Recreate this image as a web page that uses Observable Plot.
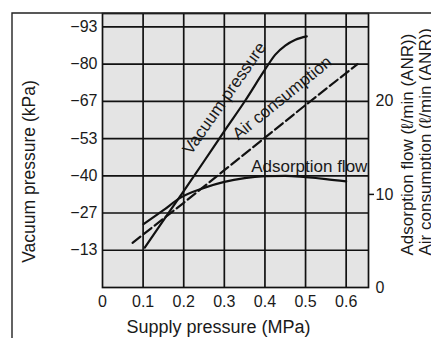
<!DOCTYPE html>
<html><head><meta charset="utf-8">
<script src="https://cdn.jsdelivr.net/npm/d3@7"></script>
<script src="https://cdn.jsdelivr.net/npm/@observablehq/plot@0.6"></script>
<style>body{margin:0;background:#fff} svg{display:block}</style>
</head><body><div id="chart"></div>
<script>
// Axis ticks
const supplyTicks = [0, 0.1, 0.2, 0.3, 0.4, 0.5, 0.6];               // MPa
const vacuumTickValues = [13.33, 26.67, 40, 53.33, 66.67, 80, 93.33];  // kPa (magnitude)
const vacuumTickLabels = ["−13", "−27", "−40", "−53", "−67", "−80", "−93"];
const flowTicks = [0, 10, 20];                                        // ℓ/min (ANR)

// Vacuum pressure (kPa magnitude) vs supply pressure (MPa)
const vacuumSupply = [0.104, 0.15, 0.20, 0.25, 0.30, 0.35, 0.40, 0.425, 0.45, 0.475, 0.503];
const vacuumKPa    = [14.3, 24.0, 34.5, 45.2, 56.0, 66.6, 78.0, 83.3, 86.6, 88.7, 89.9];

// Air consumption (ℓ/min ANR)
const airSupply = [0.074, 0.2, 0.3, 0.4, 0.5, 0.628];
const airFlow   = [4.8, 9.1, 12.6, 16.1, 19.6, 24.0];

// Adsorption flow (ℓ/min ANR)
const adsSupply = [0.101, 0.15, 0.19, 0.25, 0.30, 0.35, 0.40, 0.45, 0.50, 0.55, 0.60];
const adsFlow   = [6.8, 8.3, 9.6, 10.7, 11.35, 11.75, 11.95, 12.0, 11.85, 11.65, 11.4];

// Right axis relation: 4 ℓ/min per 13.33 kPa grid step
const kPaPerFlow = 13.333 / 4;

const vacuumRows = vacuumSupply.map((x, i) => ({x, y: vacuumKPa[i]}));
const airRows = airSupply.map((x, i) => ({x, y: airFlow[i] * kPaPerFlow}));
const adsRows = adsSupply.map((x, i) => ({x, y: adsFlow[i] * kPaPerFlow}));

const ink = "#111";
const font = "'Liberation Sans', Arial, Helvetica, sans-serif";

const chart = Plot.plot({
  width: 431, height: 338,
  marginLeft: 102, marginRight: 63, marginTop: 13, marginBottom: 51,
  x: {domain: [0, 0.655]},
  y: {domain: [0, 98.1]},
  style: {fontFamily: font, fontSize: "16px", color: "#1a1a1a", background: "transparent"},
  marks: [
    Plot.frame({fill: "#e4e4e4"}),
    // curve labels (under the grid, as in the reference)
    Plot.text([{x: 0.218, y: 47.3, t: "Vacuum pressure"}], {x: "x", y: "y", text: "t", rotate: -55, textAnchor: "start", lineAnchor: "bottom", fontSize: 17, fill: "#1a1a1a"}),
    Plot.text([{x: 0.334, y: 52.6, t: "Air consumption"}], {x: "x", y: "y", text: "t", rotate: -39, textAnchor: "start", lineAnchor: "bottom", fontSize: 17, fill: "#1a1a1a"}),
    Plot.text([{x: 0.366, y: 41.5, t: "Adsorption flow"}], {x: "x", y: "y", text: "t", textAnchor: "start", lineAnchor: "bottom", fontSize: 17, fill: "#1a1a1a"}),
    // grid
    Plot.ruleX(supplyTicks.slice(1), {stroke: ink, strokeWidth: 1.7}),
    Plot.ruleY(vacuumTickValues, {stroke: ink, strokeWidth: 1.7}),
    Plot.frame({stroke: ink, strokeWidth: 1.7}),
    // curves
    Plot.line(vacuumRows, {x: "x", y: "y", curve: "monotone-x", stroke: ink, strokeWidth: 2.2}),
    Plot.line(adsRows, {x: "x", y: "y", curve: "monotone-x", stroke: ink, strokeWidth: 2.2}),
    Plot.line(airRows, {x: "x", y: "y", curve: "linear", stroke: ink, strokeWidth: 2.2, strokeDasharray: "10,4"}),
    // axes
    Plot.axisX({ticks: supplyTicks, tickSize: 0, tickPadding: 8, tickFormat: d => d === 0 ? "0" : d.toFixed(1), label: null, fontSize: 16}),
    Plot.axisY({ticks: vacuumTickValues, tickSize: 0, tickPadding: 5, tickFormat: d => vacuumTickLabels[vacuumTickValues.indexOf(d)], label: null, fontSize: 16}),
    Plot.axisY({anchor: "right", ticks: flowTicks.map(f => f * kPaPerFlow), tickSize: 0, tickPadding: 7, tickFormat: d => String(Math.round(d / kPaPerFlow)), label: null, fontSize: 16}),
    Plot.axisY({anchor: "right", ticks: [10 * kPaPerFlow], tickSize: 5, tickFormat: () => "", label: null, stroke: ink, strokeWidth: 1.5}),
    // axis titles
    Plot.text(["Supply pressure (MPa)"], {text: d => d, frameAnchor: "bottom", dx: -17, dy: 40, textAnchor: "middle", lineAnchor: "middle", fontSize: 18, fill: "#1a1a1a"}),
    Plot.text(["Vacuum pressure (kPa)"], {text: d => d, frameAnchor: "left", dx: -73, dy: 21, rotate: -90, textAnchor: "middle", lineAnchor: "middle", fontSize: 17.5, fill: "#1a1a1a"}),
    Plot.text(["Adsorption flow (ℓ/min (ANR))\nAir consumption (ℓ/min (ANR))"], {text: d => d, frameAnchor: "right", dx: 32, dy: 105, rotate: -90, textAnchor: "start", lineAnchor: "top", lineHeight: 1.05, fontSize: 17, fill: "#1a1a1a"})
  ]
});

// outer border of the figure panel (left and top edges)
d3.select(chart).append("path")
  .attr("d", "M12,338V13H431")
  .attr("fill", "none").attr("stroke", "#222").attr("stroke-width", 1.4);

document.getElementById("chart").appendChild(chart);
</script>
</body></html>
